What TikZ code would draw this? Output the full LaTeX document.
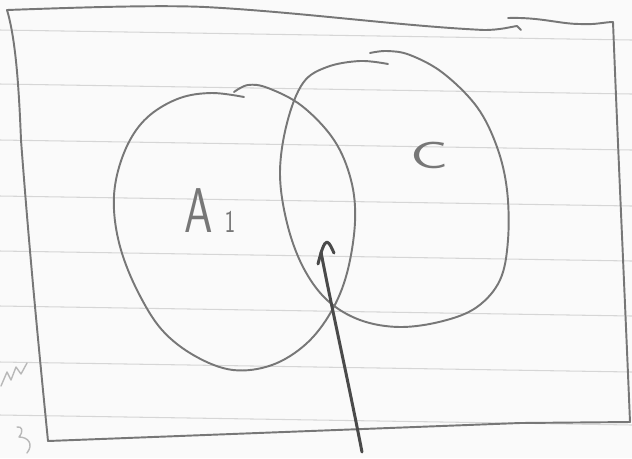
\documentclass[tikz,border=0pt]{standalone}
\usetikzlibrary{calc}
\definecolor{paper}{HTML}{FAFAFA}
\definecolor{ruling}{HTML}{D6D6D6}
\definecolor{pencil}{HTML}{777777}
\definecolor{darkpencil}{HTML}{4A4A4A}
\definecolor{faint}{HTML}{B8B8B8}
\tikzset{
  rule/.style={draw=ruling, line width=0.6pt},
  sketch/.style={draw=pencil, line width=1.1pt, line cap=round, line join=round},
  boldsketch/.style={draw=darkpencil, line width=1.7pt, line cap=round, line join=round},
  scribble/.style={draw=faint, line width=0.8pt, line cap=round, line join=round},
  setlabel/.style={text=pencil, font=\sffamily, inner sep=0pt, anchor=base}
}
\begin{document}
\begin{tikzpicture}[x=0.02cm,y=-0.02cm]
\fill[paper] (0,0) rectangle (632,458);
\useasboundingbox (0,0) rectangle (632,458);
% ruled lines of the paper
\foreach \yy in {30,84,140,196,251,306,362,415} {
  \draw[rule] (0,\yy) -- (632,\yy+10);
}
% the frame (universal set)
\draw[sketch] (7,10) .. controls (90,7) and (160,5) .. (205,7)
  .. controls (300,12) and (400,26) .. (484,30)
  .. controls (500,30) and (510,27) .. (517,26) -- (521,30);
\draw[sketch] (508,18) .. controls (540,17) and (560,24) .. (580,24)
  .. controls (595,25) and (605,22) .. (613,22);
\draw[sketch] (613,22) .. controls (618,150) and (625,300) .. (630,422);
\draw[sketch] (630,422) -- (520,423) -- (48,441);
\draw[sketch] (7,10) .. controls (16,40) and (19,90) .. (21,140)
  .. controls (30,260) and (40,360) .. (48,441);
% set A1
\draw[sketch] plot[smooth, tension=0.6] coordinates {
  (244,97) (212,93) (180,98) (150,115) (130,140) (117,175) (114,210)
  (121,250) (138,292) (162,330) (195,356) (233,370) (272,365) (306,344)
  (331,312) (347,273) (355,222) (351,180) (334,140) (302,106) (268,88)
  (248,85) (234,92)};
% set C
\draw[sketch] plot[smooth, tension=0.6] coordinates {
  (388,64) (360,61) (327,67) (303,83) (287,123) (280,173) (287,223)
  (303,267) (327,300) (360,320) (400,327) (443,321) (477,307) (500,280)
  (508,240) (507,190) (497,147) (477,107) (443,73) (410,55) (387,51) (370,53)};
% labels
\node[setlabel, font=\sffamily\fontsize{36}{38}\selectfont, xscale=0.72] (labA) at (210,232) {A\kern9pt{\fontsize{18}{19}\selectfont 1}};
\node[setlabel, font=\sffamily\fontsize{24}{26}\selectfont, xscale=1.5, yscale=0.9] (labC) at (430,168) {C};
% arrow pointing into the intersection
\coordinate (tail) at (362,452);
\coordinate (tip) at (321,252);
\draw[boldsketch] (tail) .. controls (348,380) and (330,300) .. (tip);
\draw[boldsketch] ($(tip)+(-3,12)$) .. controls ($(tip)+(0,0)$) and ($(tip)+(3,-10)$) .. ($(tip)+(6,-10)$)
  .. controls ($(tip)+(9,-9)$) and ($(tip)+(11,-3)$) .. ($(tip)+(13,1)$);
% faint marks in the margin
\draw[scribble] (1,386) -- (7,372) -- (11,380) -- (16,367) -- (21,374) -- (27,363);
\draw[scribble] (17,427) .. controls (22,426) and (24,431) .. (19,437)
  .. controls (28,437) and (34,444) .. (27,453);
\end{tikzpicture}
\end{document}
